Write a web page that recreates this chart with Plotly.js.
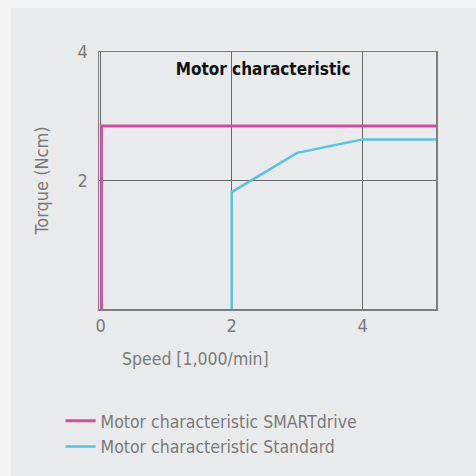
<!DOCTYPE html>
<html>
<head>
<meta charset="utf-8">
<script src="https://cdn.plot.ly/plotly-3.0.1.min.js"></script>
<style>
html,body{margin:0;padding:0;background:#f4f4f4;width:476px;height:476px;overflow:hidden;}
#chart{position:absolute;left:11px;top:8px;width:465px;height:468px;}
</style>
</head>
<body>
<div id="chart"></div>
<script>
const seriesNames = ["Motor characteristic SMARTdrive", "Motor characteristic Standard"];
const smartSpeed = [0.01, 0.01, 5.2];
const smartTorque = [0, 2.85, 2.85];
const stdSpeed = [2, 2, 3, 4, 5.2];
const stdTorque = [0, 1.82, 2.43, 2.64, 2.64];
const xTicks = [0, 2, 4];
const yTicks = [2, 4];

const FONT = "Liberation Sans Narrow, DejaVu Sans Condensed, Roboto, sans-serif";
const GRAY = "#7a7a7a";

const traces = [
  {x: smartSpeed, y: smartTorque, name: seriesNames[0], mode: "lines",
   line: {color: "#d44c9c", width: 3}},
  {x: stdSpeed, y: stdTorque, name: seriesNames[1], mode: "lines",
   line: {color: "#4fc6e3", width: 2.5}}
];

const layout = {
  width: 465, height: 468,
  margin: {l: 88, r: 40, t: 44, b: 166},
  paper_bgcolor: "#e9eaeb",
  plot_bgcolor: "#e9eaeb",
  font: {family: FONT, color: GRAY, size: 18},
  title: {
    text: "<b>Motor characteristic</b>",
    font: {family: FONT, color: "#111", size: 17},
    xref: "paper", yref: "paper", x: 0.487, y: 0.935,
    xanchor: "center", yanchor: "middle"
  },
  xaxis: {
    range: [-0.026, 5.12], tickvals: xTicks, ticktext: xTicks.map(String),
    showgrid: true, gridcolor: "#6a6a6a", gridwidth: 1,
    zeroline: false, showline: true, linecolor: "#7d7d7d", linewidth: 1.5, mirror: true,
    ticks: "", tickfont: {size: 18, color: GRAY}, fixedrange: true
  },
  yaxis: {
    range: [0, 4], tickvals: yTicks, ticktext: yTicks.map(String),
    showgrid: true, gridcolor: "#6a6a6a", gridwidth: 1,
    zeroline: false, showline: true, linecolor: "#7d7d7d", linewidth: 1.5, mirror: true,
    ticks: "", ticklen: 0, ticklabelstandoff: 6, tickfont: {size: 18, color: GRAY},
    title: {text: "Torque (Ncm)", font: {size: 18, color: GRAY}, standoff: 24},
    fixedrange: true
  },
  annotations: [
    {text: "Speed [1,000/min]", xref: "paper", yref: "paper", x: 0.062, y: -0.195,
     xanchor: "left", yanchor: "middle", showarrow: false,
     font: {family: FONT, size: 17.5, color: GRAY}}
  ],
  showlegend: true,
  legend: {
    orientation: "v", x: -0.114, y: -0.36, xanchor: "left", yanchor: "top",
    bgcolor: "rgba(0,0,0,0)", font: {family: FONT, size: 17.5, color: GRAY},
    tracegroupgap: 0, itemwidth: 30
  }
};

Plotly.newPlot("chart", traces, layout, {displayModeBar: false, staticPlot: true});
</script>
</body>
</html>
